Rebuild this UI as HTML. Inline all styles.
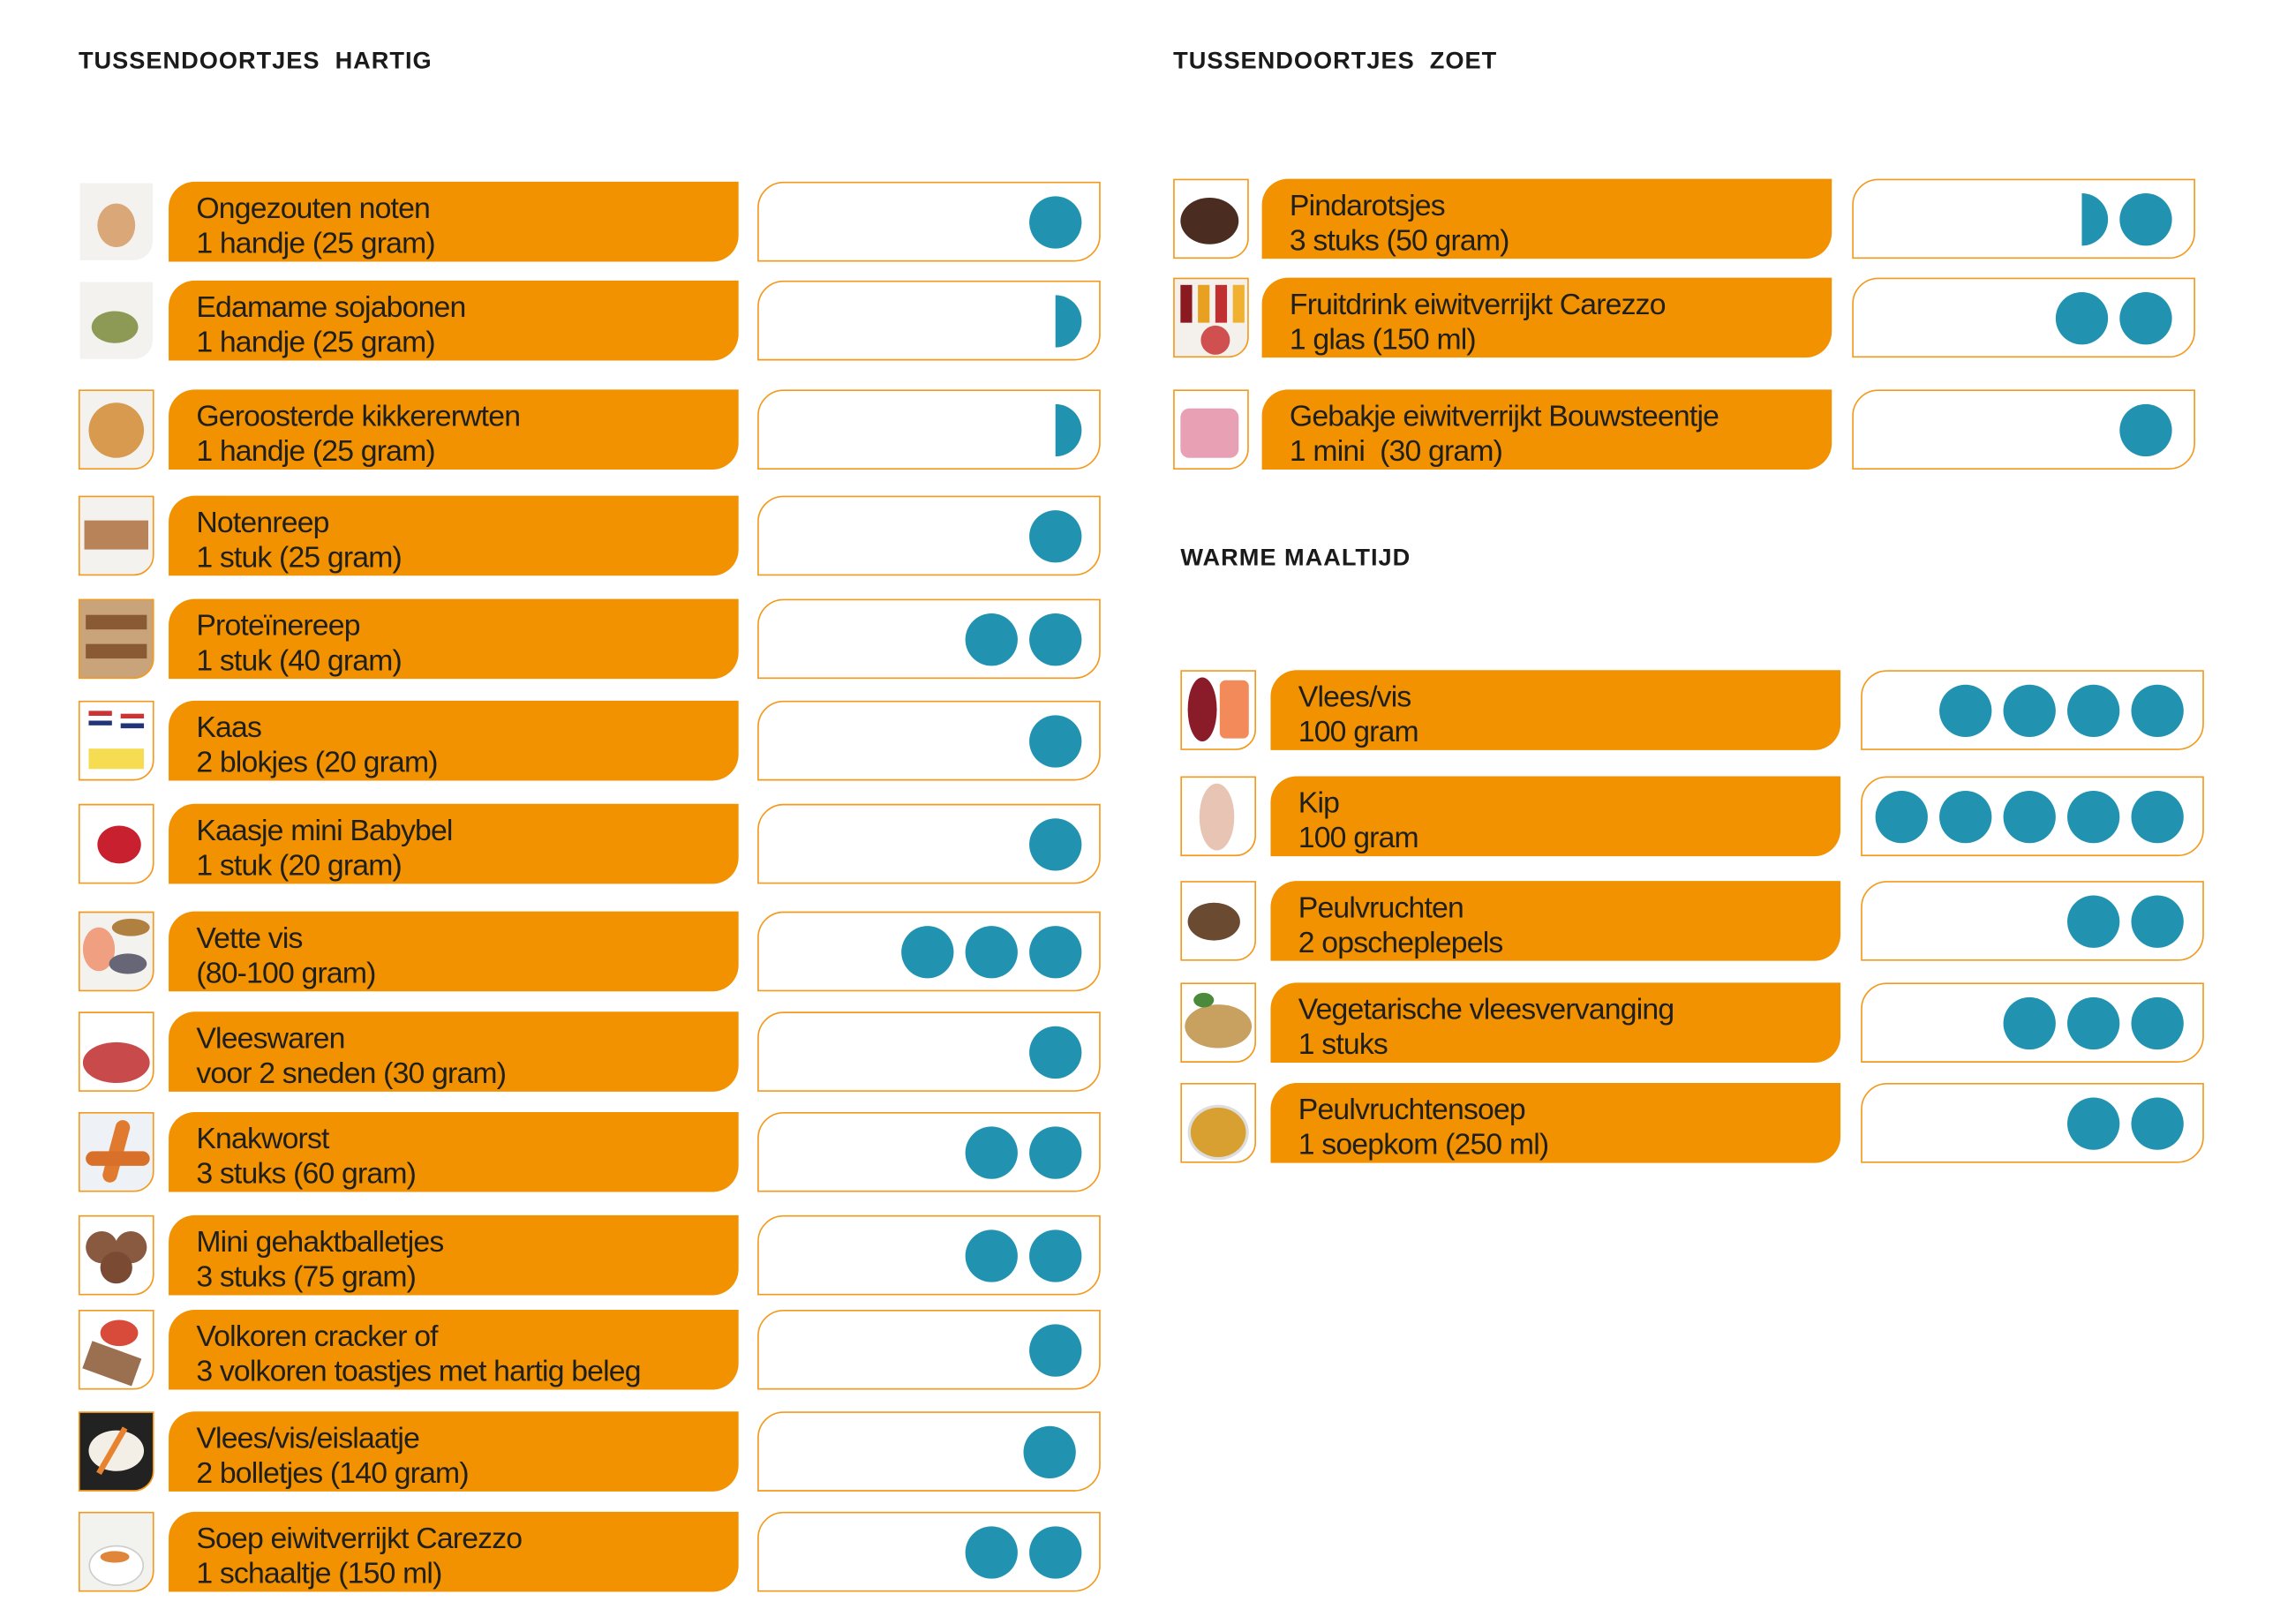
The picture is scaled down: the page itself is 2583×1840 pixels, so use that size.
<!DOCTYPE html>
<html><head><meta charset="utf-8">
<style>
html,body{margin:0;padding:0;background:#fff;}
body{width:2583px;height:1839px;overflow:hidden;}
#w{position:absolute;left:0;top:0;width:1570px;height:1117px;transform:scale(1.647,1.647);transform-origin:0 0;font-family:"Liberation Sans",sans-serif;}
.h{position:absolute;font-weight:bold;font-size:16.5px;color:#1a1a1a;letter-spacing:0.6px;white-space:pre;}
.r{position:absolute;height:55px;}
.im{position:absolute;left:0;top:0;width:50px;height:53px;border:1px solid #f39a1e;border-radius:0 0 14px 0;overflow:hidden;background:#f4f2ee;}
.b{position:absolute;top:0;height:55px;width:392px;background:#f29200;border-radius:18px 0 18px 0;}
.b div{position:absolute;left:19px;top:7px;font-size:20.5px;line-height:24px;color:#1f1f1f;letter-spacing:-0.5px;white-space:nowrap;}
.x{position:absolute;top:0;height:53px;width:234px;border:1px solid #f39a1e;border-radius:18px 0 18px 0;background:#fff;}
.d{position:absolute;top:9px;width:36px;height:36px;border-radius:50%;background:#2193b0;}
.hf{position:absolute;top:9px;width:18px;height:36px;border-radius:0 18px 18px 0;background:#2193b0;}
.L .b{left:62px}.L .x{left:467px}
.R .b{left:61px}.R .x{left:467px}
.blob{position:absolute;border-radius:50%;}
</style></head><body><div id="w">

<div class="h" style="left:54px;top:33px">TUSSENDOORTJES  HARTIG</div>
<div class="h" style="left:807px;top:33px">TUSSENDOORTJES  ZOET</div>
<div class="h" style="left:812px;top:375px">WARME MAALTIJD</div>

<!-- LEFT -->
<div class="r L" style="left:54px;top:125px"><div class="im" style="border-color:#fff"><div class="blob" style="left:12px;top:14px;width:26px;height:30px;background:#d9a778"></div></div><div class="b"><div>Ongezouten noten<br>1 handje (25 gram)</div></div><div class="x"><div class="d" style="left:186px"></div></div></div>
<div class="r L" style="left:54px;top:193px"><div class="im" style="border-color:#fff"><div class="blob" style="left:8px;top:20px;width:32px;height:22px;background:#8c9a55"></div></div><div class="b"><div>Edamame sojabonen<br>1 handje (25 gram)</div></div><div class="x"><div class="hf" style="left:204px"></div></div></div>
<div class="r L" style="left:54px;top:268px"><div class="im"><div class="blob" style="left:6px;top:8px;width:38px;height:38px;background:#d79a4e"></div></div><div class="b"><div>Geroosterde kikkererwten<br>1 handje (25 gram)</div></div><div class="x"><div class="hf" style="left:204px"></div></div></div>
<div class="r L" style="left:54px;top:341px"><div class="im"><div style="position:absolute;left:3px;top:16px;width:44px;height:20px;background:#b9835a"></div></div><div class="b"><div>Notenreep<br>1 stuk (25 gram)</div></div><div class="x"><div class="d" style="left:186px"></div></div></div>
<div class="r L" style="left:54px;top:412px"><div class="im" style="background:#c9a37a"><div style="position:absolute;left:4px;top:10px;width:42px;height:10px;background:#8a5a35"></div><div style="position:absolute;left:4px;top:30px;width:42px;height:10px;background:#8a5a35"></div></div><div class="b"><div>Proteïnereep<br>1 stuk (40 gram)</div></div><div class="x"><div class="d" style="left:142px"></div><div class="d" style="left:186px"></div></div></div>
<div class="r L" style="left:54px;top:482px"><div class="im" style="background:#fff"><div style="position:absolute;left:6px;top:6px;width:16px;height:10px;background:linear-gradient(#c33 33%,#fff 33% 66%,#237 66%)"></div><div style="position:absolute;left:28px;top:8px;width:16px;height:10px;background:linear-gradient(#c33 33%,#fff 33% 66%,#237 66%)"></div><div style="position:absolute;left:6px;top:32px;width:38px;height:14px;background:#f5dc50"></div></div><div class="b"><div>Kaas<br>2 blokjes (20 gram)</div></div><div class="x"><div class="d" style="left:186px"></div></div></div>
<div class="r L" style="left:54px;top:553px"><div class="im" style="background:#fff"><div class="blob" style="left:12px;top:14px;width:30px;height:26px;background:#c8202e"></div></div><div class="b"><div>Kaasje mini Babybel<br>1 stuk (20 gram)</div></div><div class="x"><div class="d" style="left:186px"></div></div></div>
<div class="r L" style="left:54px;top:627px"><div class="im"><div class="blob" style="left:2px;top:10px;width:22px;height:30px;background:#f0a080"></div><div class="blob" style="left:22px;top:4px;width:26px;height:12px;background:#b08040"></div><div class="blob" style="left:20px;top:28px;width:26px;height:14px;background:#667"></div></div><div class="b"><div>Vette vis<br>(80-100 gram)</div></div><div class="x"><div class="d" style="left:98px"></div><div class="d" style="left:142px"></div><div class="d" style="left:186px"></div></div></div>
<div class="r L" style="left:54px;top:696px"><div class="im" style="background:#fff"><div class="blob" style="left:2px;top:20px;width:46px;height:28px;background:#c94a4a"></div></div><div class="b"><div>Vleeswaren<br>voor 2 sneden (30 gram)</div></div><div class="x"><div class="d" style="left:186px"></div></div></div>
<div class="r L" style="left:54px;top:765px"><div class="im" style="background:#eef2f6"><div style="position:absolute;left:20px;top:4px;width:10px;height:44px;border-radius:5px;background:#e07a2e;transform:rotate(15deg)"></div><div style="position:absolute;left:4px;top:26px;width:44px;height:10px;border-radius:5px;background:#d8702a"></div></div><div class="b"><div>Knakworst<br>3 stuks (60 gram)</div></div><div class="x"><div class="d" style="left:142px"></div><div class="d" style="left:186px"></div></div></div>
<div class="r L" style="left:54px;top:836px"><div class="im" style="background:#fff"><div class="blob" style="left:4px;top:10px;width:22px;height:22px;background:#8a5a40"></div><div class="blob" style="left:24px;top:10px;width:22px;height:22px;background:#8a5a40"></div><div class="blob" style="left:14px;top:24px;width:22px;height:22px;background:#7a4a32"></div></div><div class="b"><div>Mini gehaktballetjes<br>3 stuks (75 gram)</div></div><div class="x"><div class="d" style="left:142px"></div><div class="d" style="left:186px"></div></div></div>
<div class="r L" style="left:54px;top:901px"><div class="im" style="background:#fff"><div class="blob" style="left:14px;top:6px;width:26px;height:18px;background:#d84a3a"></div><div style="position:absolute;left:4px;top:26px;width:36px;height:20px;background:#9a7050;transform:rotate(20deg)"></div></div><div class="b"><div>Volkoren cracker of<br>3 volkoren toastjes met hartig beleg</div></div><div class="x"><div class="d" style="left:186px"></div></div></div>
<div class="r L" style="left:54px;top:971px"><div class="im" style="background:#222"><div class="blob" style="left:6px;top:12px;width:38px;height:28px;background:#f3efe6"></div><div style="position:absolute;left:20px;top:8px;width:4px;height:36px;background:#e8822e;transform:rotate(30deg)"></div></div><div class="b"><div>Vlees/vis/eislaatje<br>2 bolletjes (140 gram)</div></div><div class="x"><div class="d" style="left:182px"></div></div></div>
<div class="r L" style="left:54px;top:1040px"><div class="im" style="background:#f2f2ef"><div class="blob" style="left:6px;top:22px;width:36px;height:26px;background:#fff;border:1px solid #ccc"></div><div class="blob" style="left:14px;top:26px;width:20px;height:8px;background:#e0863a"></div></div><div class="b"><div>Soep eiwitverrijkt Carezzo<br>1 schaaltje (150 ml)</div></div><div class="x"><div class="d" style="left:142px"></div><div class="d" style="left:186px"></div></div></div>

<!-- RIGHT ZOET -->
<div class="r R" style="left:807px;top:123px"><div class="im" style="background:#fff"><div class="blob" style="left:4px;top:12px;width:40px;height:32px;background:#4a2c20"></div></div><div class="b"><div>Pindarotsjes<br>3 stuks (50 gram)</div></div><div class="x"><div class="hf" style="left:157px"></div><div class="d" style="left:183px"></div></div></div>
<div class="r R" style="left:807px;top:191px"><div class="im" style="background:#f4f0ec"><div style="position:absolute;left:4px;top:4px;width:8px;height:26px;background:#8a1a20"></div><div style="position:absolute;left:16px;top:4px;width:8px;height:26px;background:#e8a020"></div><div style="position:absolute;left:28px;top:4px;width:8px;height:26px;background:#c03030"></div><div style="position:absolute;left:40px;top:4px;width:8px;height:26px;background:#f0b030"></div><div class="blob" style="left:18px;top:32px;width:20px;height:20px;background:#d05050"></div></div><div class="b"><div>Fruitdrink eiwitverrijkt Carezzo<br>1 glas (150 ml)</div></div><div class="x"><div class="d" style="left:139px"></div><div class="d" style="left:183px"></div></div></div>
<div class="r R" style="left:807px;top:268px"><div class="im" style="background:#fff"><div style="position:absolute;left:4px;top:12px;width:40px;height:34px;border-radius:6px;background:#e8a0b4"></div></div><div class="b"><div>Gebakje eiwitverrijkt Bouwsteentje<br>1 mini&nbsp; (30 gram)</div></div><div class="x"><div class="d" style="left:183px"></div></div></div>

<!-- WARME -->
<div class="r R" style="left:812px;top:461px"><div class="im" style="background:#fff"><div class="blob" style="left:4px;top:4px;width:20px;height:44px;background:#8a1c2a"></div><div style="position:absolute;left:26px;top:6px;width:20px;height:40px;border-radius:4px;background:#f28a5a"></div></div><div class="b" style="left:62px"><div>Vlees/vis<br>100 gram</div></div><div class="x" style="left:468px"><div class="d" style="left:53px"></div><div class="d" style="left:97px"></div><div class="d" style="left:141px"></div><div class="d" style="left:185px"></div></div></div>
<div class="r R" style="left:812px;top:534px"><div class="im" style="background:#fff"><div class="blob" style="left:12px;top:4px;width:24px;height:46px;background:#e8c4b4"></div></div><div class="b" style="left:62px"><div>Kip<br>100 gram</div></div><div class="x" style="left:468px"><div class="d" style="left:9px"></div><div class="d" style="left:53px"></div><div class="d" style="left:97px"></div><div class="d" style="left:141px"></div><div class="d" style="left:185px"></div></div></div>
<div class="r R" style="left:812px;top:606px"><div class="im" style="background:#fff"><div class="blob" style="left:4px;top:14px;width:36px;height:26px;background:#6a4a30"></div></div><div class="b" style="left:62px"><div>Peulvruchten<br>2 opscheplepels</div></div><div class="x" style="left:468px"><div class="d" style="left:141px"></div><div class="d" style="left:185px"></div></div></div>
<div class="r R" style="left:812px;top:676px"><div class="im" style="background:#fff"><div class="blob" style="left:2px;top:14px;width:46px;height:30px;background:#c8a060"></div><div class="blob" style="left:8px;top:6px;width:14px;height:10px;background:#4a8a3a"></div></div><div class="b" style="left:62px"><div>Vegetarische vleesvervanging<br>1 stuks</div></div><div class="x" style="left:468px"><div class="d" style="left:97px"></div><div class="d" style="left:141px"></div><div class="d" style="left:185px"></div></div></div>
<div class="r R" style="left:812px;top:745px"><div class="im" style="background:#fff"><div class="blob" style="left:4px;top:14px;width:38px;height:34px;background:#d8a030;border:2px solid #ddd"></div></div><div class="b" style="left:62px"><div>Peulvruchtensoep<br>1 soepkom (250 ml)</div></div><div class="x" style="left:468px"><div class="d" style="left:141px"></div><div class="d" style="left:185px"></div></div></div>

</div></body></html>
